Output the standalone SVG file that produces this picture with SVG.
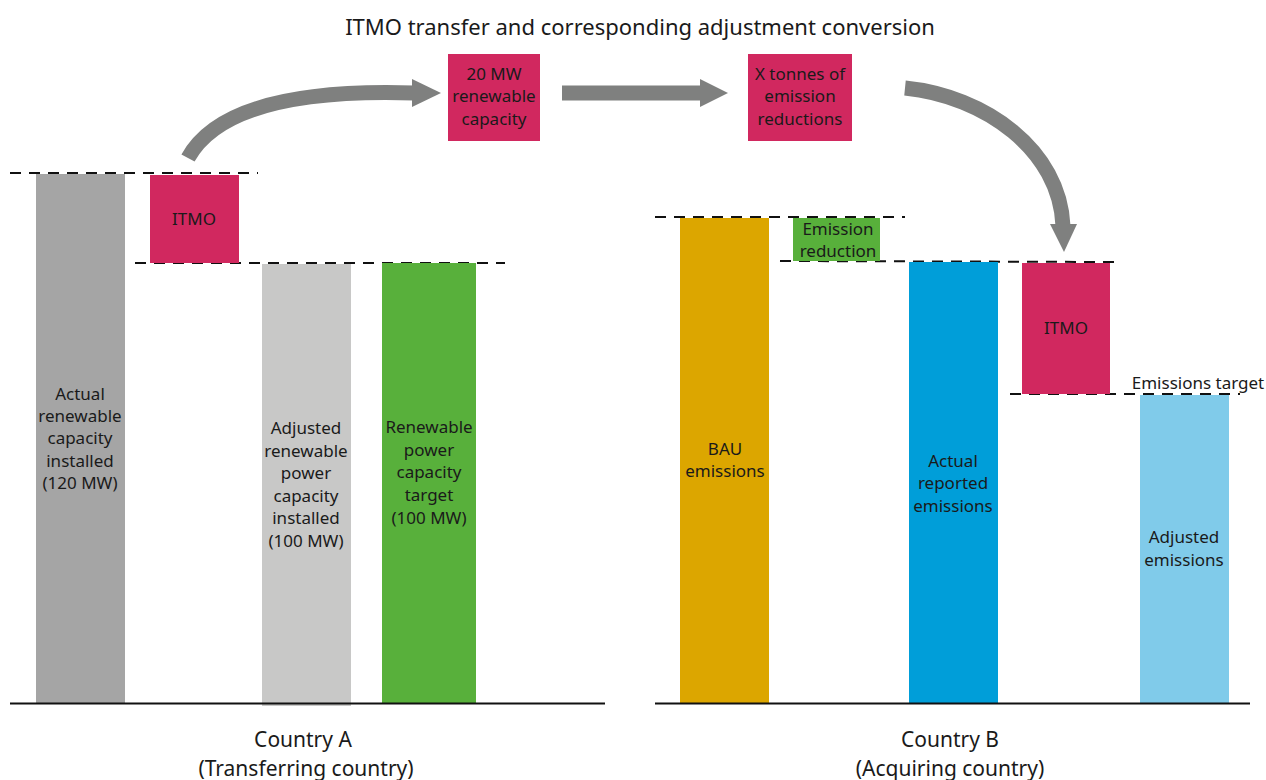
<svg xmlns="http://www.w3.org/2000/svg" width="1266" height="780" viewBox="0 0 1266 780">
<style>
text{font-family:"Noto Sans","Open Sans",sans-serif;font-size:17px;fill:#1a1a1a;text-anchor:middle}
.t{font-size:22px}
.big{font-size:21px}
.dash{stroke:#111;stroke-width:2;stroke-dasharray:11 8;fill:none}
.base{stroke:#111;stroke-width:2;fill:none}
.arr{stroke:#7f807f;stroke-width:15;fill:none}
.head{fill:#7f807f}
.mag{fill:#d1285f}
</style>
<rect width="1266" height="780" fill="#fff"/>
<text class="t" x="640" y="35">ITMO transfer and corresponding adjustment conversion</text>

<g id="connectors">
<path class="arr" d="M188 158 C220 100 320 90 414 93"/>
<polygon class="head" points="412,79 441,93 412,107"/>
<line class="arr" x1="562" y1="93" x2="702" y2="93"/>
<polygon class="head" points="700,79 728,93 700,107"/>
<path class="arr" d="M905 88 C985 96 1060 150 1063 226"/>
<polygon class="head" points="1050,224 1077,224 1064,252"/>
</g>

<g id="box-20mw">
<rect class="mag" x="448" y="54" width="92" height="87"/>
<text x="494" y="80">20 MW</text>
<text x="494" y="102">renewable</text>
<text x="494" y="125">capacity</text>
</g>
<g id="box-xtonnes">
<rect class="mag" x="748" y="54" width="104" height="87"/>
<text x="800" y="80">X tonnes of</text>
<text x="800" y="102">emission</text>
<text x="800" y="125">reductions</text>
</g>

<g id="guides">
<line class="dash" x1="10" y1="173" x2="258" y2="173"/>
<line class="dash" x1="135" y1="263" x2="505" y2="263"/>
<line class="dash" x1="655" y1="217" x2="905" y2="217"/>
<line class="dash" x1="780" y1="261" x2="1118" y2="262"/>
<line class="dash" x1="1010" y1="394" x2="1240" y2="394"/>
</g>

<g id="bar-actual">
<rect x="36" y="174" width="89" height="529" fill="#a5a5a5"/>
<text x="80" y="400">Actual</text>
<text x="80" y="422">renewable</text>
<text x="80" y="444">capacity</text>
<text x="80" y="467">installed</text>
<text x="80" y="489">(120 MW)</text>
</g>
<g id="itmo-a">
<rect class="mag" x="150" y="175" width="89" height="88"/>
<text x="194" y="225">ITMO</text>
</g>
<g id="bar-adjusted-a">
<rect x="262" y="264" width="89" height="442" fill="#c8c8c7"/>
<text x="306" y="434">Adjusted</text>
<text x="306" y="457">renewable</text>
<text x="306" y="479">power</text>
<text x="306" y="502">capacity</text>
<text x="306" y="524">installed</text>
<text x="306" y="547">(100 MW)</text>
</g>
<g id="bar-target-a">
<rect x="382" y="263" width="94" height="440" fill="#58b03b"/>
<text x="429" y="433">Renewable</text>
<text x="429" y="456">power</text>
<text x="429" y="478">capacity</text>
<text x="429" y="501">target</text>
<text x="429" y="524">(100 MW)</text>
</g>

<g id="bar-bau">
<rect x="680" y="218" width="89" height="485" fill="#dca600"/>
<text x="725" y="455">BAU</text>
<text x="725" y="477">emissions</text>
</g>
<g id="emission-reduction">
<rect x="793" y="218" width="87" height="43" fill="#58b03b"/>
<text x="838" y="235">Emission</text>
<text x="838" y="257">reduction</text>
</g>
<g id="bar-actual-b">
<rect x="909" y="262" width="89" height="441" fill="#009ed9"/>
<text x="953" y="467">Actual</text>
<text x="953" y="489">reported</text>
<text x="953" y="512">emissions</text>
</g>
<g id="itmo-b">
<rect class="mag" x="1022" y="263" width="88" height="131"/>
<text x="1066" y="334">ITMO</text>
</g>
<g id="bar-adjusted-b">
<rect x="1140" y="395" width="89" height="308" fill="#80cbea"/>
<text x="1184" y="543">Adjusted</text>
<text x="1184" y="566">emissions</text>
</g>
<text x="1198" y="389">Emissions target</text>

<g id="axes">
<line class="base" x1="10" y1="703.5" x2="605" y2="703.5"/>
<line class="base" x1="655" y1="703.5" x2="1250" y2="703.5"/>
</g>
<text class="big" x="303" y="747">Country A</text>
<text class="big" x="306" y="776">(Transferring country)</text>
<text class="big" x="950" y="747">Country B</text>
<text class="big" x="950" y="776">(Acquiring country)</text>
</svg>
